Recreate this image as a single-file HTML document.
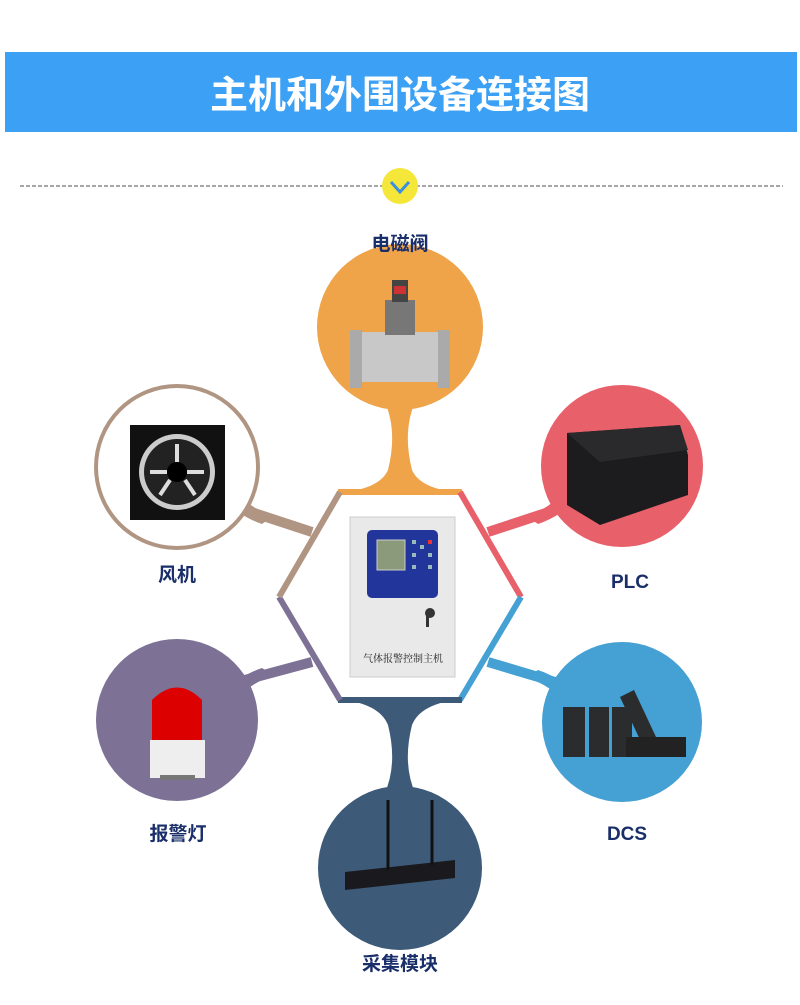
<!DOCTYPE html>
<html><head><meta charset="utf-8"><style>
html,body{margin:0;padding:0;background:#fff;}
body{width:800px;height:1000px;overflow:hidden;position:relative;font-family:"Liberation Sans","Noto Sans CJK SC",sans-serif;}
</style></head><body>
<svg width="800" height="1000" viewBox="0 0 800 1000" xmlns="http://www.w3.org/2000/svg">
<rect x="5" y="52" width="792" height="80" fill="#3ca1f5"/>
<text x="400" y="108" text-anchor="middle" font-size="38" font-weight="bold" fill="#fff" font-family="Noto Sans CJK SC, sans-serif">主机和外围设备连接图</text>
<line x1="20" y1="186" x2="783" y2="186" stroke="#888" stroke-width="1.5" stroke-dasharray="4,2"/>
<ellipse cx="400" cy="186" rx="18" ry="18" fill="#f5e63a"/>
<polyline points="391,182 400,192 409,182" fill="none" stroke="#3b8fe0" stroke-width="3"/>

<!-- connectors -->
<path d="M384,400 Q398,430 388,470 Q380,488 345,492 L455,492 Q420,488 412,470 Q402,430 416,400 Z" fill="#f0a44a"/>
<path d="M384,795 Q398,765 388,725 Q380,705 345,700 L455,700 Q420,705 412,725 Q402,765 416,795 Z" fill="#3d5a78"/>
<g stroke-width="10">
<line x1="245" y1="510" x2="312" y2="532" stroke="#b09583"/>
<line x1="555" y1="510" x2="488" y2="532" stroke="#e8606a"/>
<line x1="245" y1="680" x2="312" y2="662" stroke="#7d7195"/>
<line x1="555" y1="682" x2="488" y2="662" stroke="#45a0d3"/>
</g>
<g>
<path d="M240,495 Q255,512 275,515 L262,524 Q250,520 238,512 Z" fill="#b09583"/>
<path d="M560,495 Q545,512 525,515 L538,524 Q550,520 562,512 Z" fill="#e8606a"/>
<path d="M240,696 Q255,680 275,676 L262,668 Q250,672 238,680 Z" fill="#7d7195"/>
<path d="M560,698 Q545,682 525,678 L538,670 Q550,674 562,682 Z" fill="#45a0d3"/>
</g>

<!-- hexagon -->
<g stroke-width="6" fill="none">
<line x1="338" y1="492" x2="462" y2="492" stroke="#f0a44a"/>
<line x1="460" y1="492" x2="521" y2="597" stroke="#e8606a"/>
<line x1="521" y1="597" x2="460" y2="700" stroke="#45a0d3"/>
<line x1="462" y1="700" x2="338" y2="700" stroke="#3d5a78"/>
<line x1="340" y1="700" x2="279" y2="597" stroke="#7d7195"/>
<line x1="279" y1="597" x2="340" y2="492" stroke="#b09583"/>
</g>

<!-- main panel -->
<rect x="350" y="517" width="105" height="160" fill="#e9e9e9" stroke="#ccc"/>
<rect x="367" y="530" width="71" height="68" rx="5" fill="#22359a"/>
<rect x="377" y="540" width="28" height="30" fill="#8a9a7a" stroke="#ccc"/>
<g fill="#9bb"><rect x="412" y="540" width="4" height="4"/><rect x="420" y="545" width="4" height="4"/><rect x="428" y="540" width="4" height="4" fill="#e33"/><rect x="412" y="553" width="4" height="4"/><rect x="428" y="553" width="4" height="4"/><rect x="412" y="565" width="4" height="4"/><rect x="428" y="565" width="4" height="4"/></g>
<circle cx="430" cy="613" r="5" fill="#333"/><rect x="426" y="615" width="3" height="12" fill="#333"/>
<text x="403" y="662" text-anchor="middle" font-size="10" fill="#222" font-family="Noto Serif CJK SC, serif">气体报警控制主机</text>

<!-- circles -->
<circle cx="400" cy="327" r="83" fill="#f0a44a"/>
<circle cx="177" cy="467" r="81" fill="#fff" stroke="#b09583" stroke-width="4"/>
<circle cx="622" cy="466" r="81" fill="#e8606a"/>
<circle cx="177" cy="720" r="81" fill="#7d7195"/>
<circle cx="622" cy="722" r="80" fill="#45a0d3"/>
<circle cx="400" cy="868" r="82" fill="#3d5a78"/>

<!-- valve -->
<rect x="350" y="332" width="100" height="50" rx="14" fill="#c8c8c8"/>
<rect x="350" y="330" width="12" height="58" fill="#aaa"/><rect x="438" y="330" width="12" height="58" fill="#aaa"/>
<rect x="385" y="300" width="30" height="35" fill="#777"/>
<rect x="392" y="280" width="16" height="22" fill="#444"/><rect x="394" y="286" width="12" height="8" fill="#c33"/>
<!-- fan -->
<rect x="130" y="425" width="95" height="95" fill="#111"/>
<circle cx="177" cy="472" r="38" fill="#ccc"/><circle cx="177" cy="472" r="33" fill="#222"/>
<circle cx="177" cy="472" r="10" fill="#000"/>
<g stroke="#ddd" stroke-width="4"><line x1="177" y1="444" x2="177" y2="462"/><line x1="150" y1="472" x2="167" y2="472"/><line x1="204" y1="472" x2="187" y2="472"/><line x1="160" y1="495" x2="170" y2="480"/><line x1="195" y1="495" x2="185" y2="480"/></g>
<!-- PLC -->
<polygon points="567,433 680,425 688,455 688,495 600,525 567,505" fill="#1c1c1e"/>
<polygon points="567,433 680,425 688,450 600,462" fill="#2a2a2c"/>
<!-- DCS -->
<rect x="563" y="707" width="22" height="50" fill="#2a2c2e"/><rect x="589" y="707" width="20" height="50" fill="#2a2c2e"/><rect x="612" y="707" width="20" height="50" fill="#2a2c2e"/>
<polygon points="620,697 634,690 656,737 642,744" fill="#2a2c2e"/>
<rect x="626" y="737" width="60" height="20" fill="#222"/>
<!-- lamp -->
<rect x="150" y="740" width="55" height="38" fill="#eee"/>
<path d="M152,740 L152,700 Q177,675 202,700 L202,740 Z" fill="#d00"/>
<rect x="160" y="775" width="35" height="5" fill="#777"/>
<!-- collector -->
<polygon points="345,872 455,860 455,878 345,890" fill="#1a1a1e"/>
<line x1="388" y1="800" x2="388" y2="870" stroke="#111" stroke-width="3"/>
<line x1="432" y1="800" x2="432" y2="865" stroke="#111" stroke-width="3"/>

<!-- labels -->
<g font-size="19" font-weight="bold" fill="#1a2f6a" text-anchor="middle" font-family="Liberation Sans, Noto Sans CJK SC, sans-serif">
<text x="400" y="250">电磁阀</text>
<text x="177" y="581">风机</text>
<text x="630" y="588">PLC</text>
<text x="178" y="840">报警灯</text>
<text x="627" y="840">DCS</text>
<text x="400" y="970">采集模块</text>
</g>
</svg>
</body></html>
